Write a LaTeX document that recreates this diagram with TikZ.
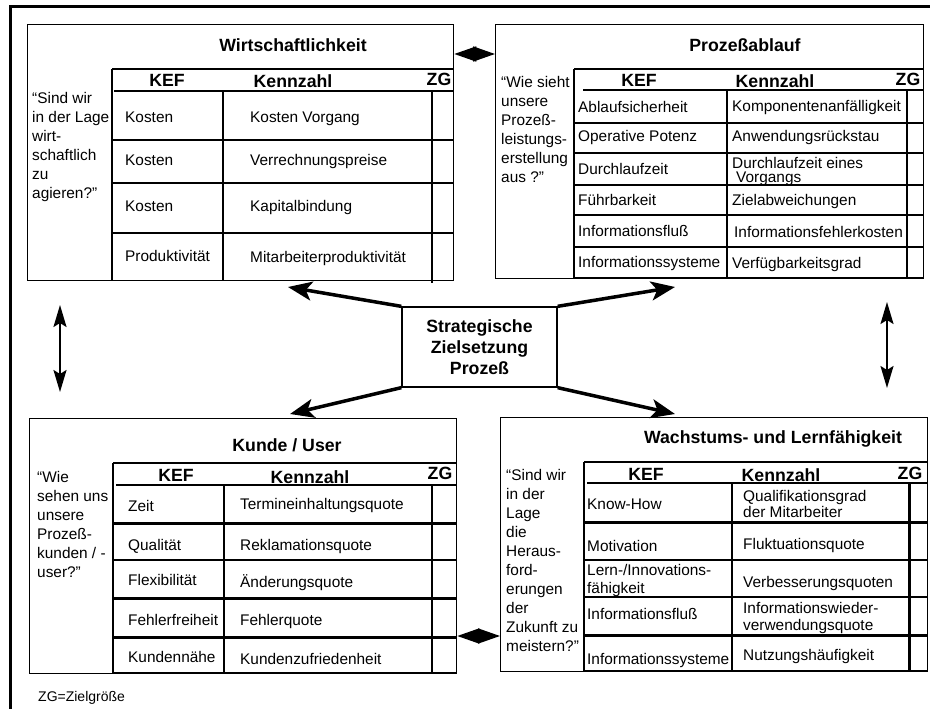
\documentclass[tikz,border=0pt]{standalone}
\usepackage{fontspec}
\setmainfont{Liberation Sans}
\usetikzlibrary{arrows.meta}
\begin{document}
\begin{tikzpicture}[x=1pt,y=-1pt,
  frame/.style={line width=3pt},
  panel/.style={draw, line width=1.3pt, inner sep=0pt, anchor=north west},
  grid/.style={line width=1.3pt},
  rule/.style={line width=2pt},
  heavy/.style={line width=3pt},
  cell/.style={anchor=base west, inner sep=0pt, font=\fontsize{15.4}{19}\selectfont},
  ask/.style={anchor=base west, inner sep=0pt, align=left, font=\fontsize{15.4}{19}\selectfont},
  head/.style={anchor=base, inner sep=0pt, font=\bfseries\fontsize{17.7}{21}\selectfont},
  link/.style={line width=3.5pt, -{Stealth[length=24pt,width=19pt,inset=6pt]}},
  pair/.style={line width=2pt, {Stealth[length=22pt,width=13pt,inset=4pt]}-{Stealth[length=22pt,width=13pt,inset=4pt]}},
  kite/.style={line width=1.5pt, {Triangle[length=22pt,width=15pt]}-{Triangle[length=22pt,width=15pt]}},
]
\useasboundingbox (0,0) rectangle (930,709);

% outer frame (top and left edges)
\draw[frame, line join=miter] (10,709) -- (10,7) -- (930,7);

% ---------------- panels ----------------
\node[panel, minimum width=426pt, minimum height=256pt] (kw) at (27,24) {};
\node[panel, minimum width=428pt, minimum height=254pt] (pa) at (495,24) {};
\node[panel, minimum width=427pt, minimum height=255pt] (ku) at (29,418) {};
\node[panel, minimum width=427pt, minimum height=254pt] (wl) at (500,417) {};

% ---------------- Wirtschaftlichkeit ----------------
\node[head] (kwT) at (293,52) {Wirtschaftlichkeit};
\draw[grid] (112,69) -- (453,69);
\draw[grid] (112,69) -- (112,280);
\draw[rule] (114,91) -- (453,91);
\draw[grid] (223,91) -- (223,280);
\draw[grid] (432,91) -- (432,283);
\foreach \y in {140,183,233} \draw[grid] (112,\y) -- (453,\y);
\node[head] (kwH1) at (167,87) {KEF};
\node[head] (kwH2) at (293,88) {Kennzahl};
\node[head] (kwH3) at (439,86) {ZG};
% question blocks sit on the baseline of their last line
\node[ask] (kwQ) at (32,198) {“Sind wir\\in der Lage\\wirt-\\schaftlich\\zu\\agieren?”};
\node[cell] (kwa1) at (125,122) {Kosten};
\node[cell] (kwb1) at (250,122) {Kosten Vorgang};
\node[cell] (kwa2) at (125,165) {Kosten};
\node[cell] (kwb2) at (250,165) {Verrechnungspreise};
\node[cell] (kwa3) at (125,211) {Kosten};
\node[cell] (kwb3) at (250,211) {Kapitalbindung};
\node[cell] (kwa4) at (125,261) {Produktivität};
\node[cell] (kwb4) at (250,262) {Mitarbeiterproduktivität};

% ---------------- Prozeßablauf ----------------
\node[head] (paT) at (745,52) {Prozeßablauf};
\draw[grid] (574,69) -- (923,69);
\draw[grid] (574,69) -- (574,278);
\draw[rule] (583,90) -- (923,90);
\draw[grid] (727,90) -- (727,278);
\draw[grid] (907,90) -- (907,278);
\foreach \y in {123,153,185,215,247,278} \draw[rule] (574,\y) -- (923,\y);
\node[head] (paH1) at (639,87) {KEF};
\node[head] (paH2) at (775,88) {Kennzahl};
\node[head] (paH3) at (908,86) {ZG};
\node[ask] (paQ) at (501,182) {“Wie sieht\\unsere\\Prozeß-\\leistungs-\\erstellung\\aus ?”};
\node[cell] (paa1) at (578,113) {Ablaufsicherheit};
\node[cell] (pab1) at (732,112) {Komponentenanfälligkeit};
\node[cell] (paa2) at (578,142) {Operative Potenz};
\node[cell] (pab2) at (732,141) {Anwendungsrückstau};
\node[cell] (paa3) at (578,174) {Durchlaufzeit};
\node[cell] (pab3) at (732,168) {Durchlaufzeit eines};
\node[cell] (pac3) at (736,182) {Vorgangs};
\node[cell] (paa4) at (578,205) {Führbarkeit};
\node[cell] (pab4) at (732,205) {Zielabweichungen};
\node[cell] (paa5) at (578,236) {Informationsfluß};
\node[cell] (pab5) at (734,237) {Informationsfehlerkosten};
\node[cell] (paa6) at (578,267) {Informationssysteme};
\node[cell] (pab6) at (732,268) {Verfügbarkeitsgrad};

% ---------------- Kunde / User ----------------
\node[head] (kuT) at (287,451) {Kunde / User};
\draw[grid] (113,463) -- (456,463);
\draw[grid] (113,463) -- (113,673);
\draw[rule] (116,485) -- (456,485);
\draw[grid] (224,485) -- (224,673);
\draw[grid] (432,485) -- (432,673);
\draw[heavy] (113,523) -- (456,523);
\draw[rule]  (113,560) -- (456,560);
\draw[heavy] (113,598) -- (456,598);
\draw[heavy] (113,637) -- (456,637);
\draw[rule]  (113,673) -- (456,673);
\node[head] (kuH1) at (176,481) {KEF};
\node[head] (kuH2) at (310,483) {Kennzahl};
\node[head] (kuH3) at (440,479) {ZG};
\node[ask] (kuQ) at (37,577) {“Wie\\sehen uns\\unsere\\Prozeß-\\kunden / -\\user?”};
\node[cell] (kua1) at (128,511) {Zeit};
\node[cell] (kub1) at (240,509) {Termineinhaltungsquote};
\node[cell] (kua2) at (128,550) {Qualität};
\node[cell] (kub2) at (240,550) {Reklamationsquote};
\node[cell] (kua3) at (128,585) {Flexibilität};
\node[cell] (kub3) at (240,587) {Änderungsquote};
\node[cell] (kua4) at (128,625) {Fehlerfreiheit};
\node[cell] (kub4) at (240,625) {Fehlerquote};
\node[cell] (kua5) at (128,662) {Kundennähe};
\node[cell] (kub5) at (240,664) {Kundenzufriedenheit};

% ---------------- Wachstums- und Lernfähigkeit ----------------
\node[head] (wlT) at (773,443) {Wachstums- und Lernfähigkeit};
\draw[grid] (584,462) -- (927,462);
\draw[grid] (584,462) -- (584,671);
\draw[rule] (587,483) -- (927,483);
\draw[grid] (732,483) -- (732,671);
\draw[heavy] (909,483) -- (909,671);
\draw[heavy] (584,522) -- (927,522);
\draw[rule]  (584,560) -- (927,560);
\draw[rule]  (584,597) -- (927,597);
\draw[heavy] (584,635) -- (927,635);
\draw[rule]  (584,671) -- (927,671);
\node[head] (wlH1) at (646,480) {KEF};
\node[head] (wlH2) at (781,481) {Kennzahl};
\node[head] (wlH3) at (910,479) {ZG};
\node[ask] (wlQ) at (506,651) {“Sind wir\\in der\\Lage\\die\\Heraus-\\ford-\\erungen\\der\\Zukunft zu\\meistern?”};
\node[cell] (wla1) at (587,509) {Know-How};
\node[cell] (wlb1) at (743,501) {Qualifikationsgrad};
\node[cell] (wlc1) at (743,517) {der Mitarbeiter};
\node[cell] (wla2) at (587,551) {Motivation};
\node[cell] (wlb2) at (743,549) {Fluktuationsquote};
\node[cell] (wla3) at (587,575) {Lern-/Innovations-};
\node[cell] (wlc3) at (587,593) {fähigkeit};
\node[cell] (wlb3) at (743,587) {Verbesserungsquoten};
\node[cell] (wla4) at (587,619) {Informationsfluß};
\node[cell] (wlb4) at (743,613) {Informationswieder-};
\node[cell] (wlc4) at (743,630) {verwendungsquote};
\node[cell] (wla5) at (587,664) {Informationssysteme};
\node[cell] (wlb5) at (743,660) {Nutzungshäufigkeit};

% ---------------- centre ----------------
\node[draw, line width=1.3pt, minimum width=155pt, minimum height=80pt, inner sep=0pt,
      align=center, font=\bfseries\fontsize{17.7}{21}\selectfont] (goal) at (479.5,347)
      {Strategische\\Zielsetzung\\Prozeß};

\coordinate (tl) at (288,287);
\coordinate (tr) at (675,287);
\coordinate (bl) at (290,414);
\coordinate (br) at (675,414);
\draw[link] (goal.north west) -- (tl);
\draw[link] (goal.north east) -- (tr);
\draw[link] (goal.south west) -- (bl);
\draw[link] (goal.south east) -- (br);

% links between neighbouring panels
\coordinate (ha1) at (kw.east |- 0,54);
\coordinate (hb1) at (pa.west |- 0,54);
\draw[kite] (ha1) -- (hb1);
\coordinate (ha2) at (ku.east |- 0,636);
\coordinate (hb2) at (wl.west |- 0,636);
\draw[kite] (ha2) -- (hb2);
\coordinate (va1) at (60,305);
\coordinate (vb1) at (60,392);
\draw[pair] (va1) -- (vb1);
\coordinate (va2) at (887,302);
\coordinate (vb2) at (887,388);
\draw[pair] (va2) -- (vb2);

\node[anchor=base west, inner sep=0pt, font=\fontsize{14}{17}\selectfont] (note) at (38,701) {ZG=Zielgröße};
\end{tikzpicture}
\end{document}
